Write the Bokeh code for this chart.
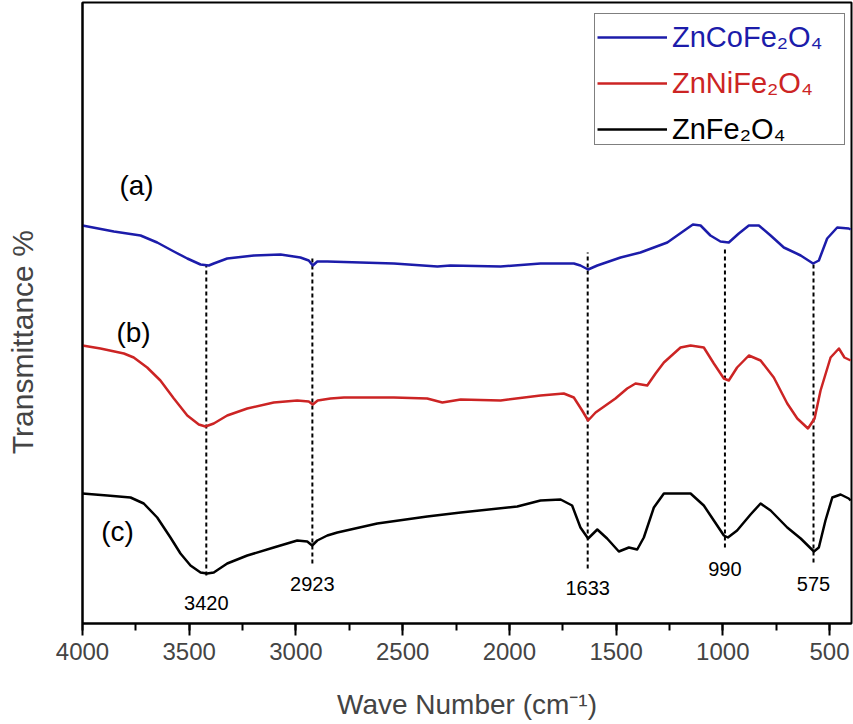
from bokeh.plotting import figure
from bokeh.models import Range1d, SingleIntervalTicker, FixedTicker, Legend, LegendItem
from bokeh.core.properties import value
from bokeh.embed import file_html
from bokeh.resources import INLINE

# ---------------- data ----------------
# (a) ZnCoFe2O4
wn_a = [4000, 3853, 3728, 3650, 3572, 3509, 3447, 3408, 3385, 3322, 3197, 3072, 2979, 2940,
        2921, 2900, 2853, 2541, 2337, 2276, 2041, 1854, 1698, 1667, 1631, 1588, 1479, 1386,
        1260, 1167, 1140, 1104, 1058, 1011, 972, 925, 878, 831, 776, 714, 635, 577, 550,
        511, 464, 410, 401]
t_a = [398, 392, 388, 381, 372, 365, 359, 358, 360, 365, 368, 369, 366, 363,
       358, 362, 362, 360, 357, 358, 357, 360, 360, 358, 354, 358, 366, 371,
       381, 395, 399, 398, 388, 382, 381, 390, 398, 398, 388, 376, 368, 360, 363,
       385, 396, 395, 394]

# (b) ZnNiFe2O4
wn_b = [4000, 3916, 3806, 3760, 3697, 3635, 3572, 3509, 3455, 3424, 3385, 3322, 3228, 3104,
        2994, 2940, 2921, 2898, 2838, 2775, 2541, 2385, 2314, 2228, 2041, 1854, 1745, 1698,
        1659, 1631, 1596, 1503, 1448, 1409, 1354, 1315, 1276, 1198, 1151, 1089, 1042, 995,
        972, 933, 878, 823, 761, 698, 651, 601, 570, 542, 495, 456, 430, 401]
t_b = [278, 275, 270, 266, 256, 243, 225, 208, 199, 197, 200, 208, 215, 221,
       223, 222, 219, 223, 225, 226, 226, 225, 221, 224, 223, 228, 230, 226,
       213, 203, 211, 225, 235, 240, 238, 250, 261, 276, 278, 276, 260, 245,
       243, 256, 268, 263, 246, 220, 205, 195, 205, 233, 266, 275, 266, 263]

# (c) ZnFe2O4
wn_c = [4000, 3884, 3775, 3713, 3650, 3588, 3541, 3494, 3447, 3416, 3385, 3322, 3228, 3104,
        2994, 2947, 2924, 2900, 2853, 2806, 2619, 2385, 2228, 1963, 1854, 1760, 1706, 1667,
        1631, 1588, 1542, 1487, 1440, 1401, 1370, 1323, 1276, 1151, 1089, 1042, 995, 976,
        933, 870, 823, 776, 698, 635, 573, 550, 519, 487, 448, 410, 401]
t_c = [130, 128, 126, 120, 106, 86, 70, 58, 51, 50, 51, 60, 68, 76,
       83, 82, 78, 83, 88, 91, 100, 107, 111, 117, 123, 124, 118, 96,
       85, 94, 85, 72, 76, 74, 86, 116, 130, 130, 118, 103, 88, 86,
       93, 109, 120, 113, 96, 85, 72, 76, 103, 126, 129, 125, 123]

series_names = ["ZnCoFe\u2082O\u2084", "ZnNiFe\u2082O\u2084", "ZnFe\u2082O\u2084"]
curve_tags = ["(a)", "(b)", "(c)"]

peaks = [3420, 2923, 1633, 990, 575]
peak_labels = ["3420", "2923", "1633", "990", "575"]
dash_top = [359, 366, 371, 375, 360]
dash_bottom = [48, 60, 55, 76, 61]

# ---------------- layout / style ----------------
COLORS = ["#1c1caa", "#cc2424", "#000000"]
FONT = "Liberation Sans"

p = figure(width=853, height=724, output_backend="svg", toolbar_location=None,
           x_range=Range1d(4000, 397), y_range=Range1d(0, 621),
           min_border_left=82, min_border_right=2, min_border_top=2, min_border_bottom=101)
p.grid.visible = False
p.background_fill_color = "white"
p.outline_line_color = "black"
p.outline_line_width = 2
p.outline_line_alpha = 1

xa = p.xaxis[0]
xa.ticker = SingleIntervalTicker(interval=500, num_minor_ticks=2)
xa.axis_label = "Wave Number (cm\u207b\u00b9)"
xa.axis_label_text_font = FONT
xa.axis_label_text_font_size = "28px"
xa.axis_label_text_font_style = "normal"
xa.axis_label_standoff = 26
xa.major_label_text_font = FONT
xa.major_label_text_font_size = "24px"
xa.major_label_standoff = 7
xa.axis_line_width = 2
xa.major_tick_line_width = 2
xa.minor_tick_line_width = 2
xa.major_tick_out = 12
xa.major_tick_in = 0
xa.minor_tick_out = 7
xa.minor_tick_in = 0

ya = p.yaxis[0]
ya.ticker = FixedTicker(ticks=[])
# trailing no-break spaces shift the visible title slightly downwards, as in the reference
ya.axis_label = "Transmittance %" + "\u00a0" * 7
ya.axis_label_text_font = FONT
ya.axis_label_text_font_size = "30px"
ya.axis_label_text_font_style = "normal"
ya.axis_label_standoff = 44
ya.axis_line_width = 2
ya.major_tick_line_color = None
ya.minor_tick_line_color = None
ya.major_label_text_font_size = "0px"

# dashed guide lines at the band positions
p.segment(x0=peaks, y0=dash_bottom, x1=peaks, y1=dash_top,
          line_color="black", line_width=2, line_dash="4 3")

renderers = []
for wn, t, c in zip([wn_a, wn_b, wn_c], [t_a, t_b, t_c], COLORS):
    renderers.append(p.line(wn, t, line_color=c, line_width=2.5, line_join="round"))

# peak labels
peak_label_y = [21, 40, 36, 55, 40]
p.text(x=peaks, y=peak_label_y, text=peak_labels, text_font=value(FONT),
       text_font_size="20px", text_align="center", text_baseline="middle", text_color="black")

# curve tags
tag_x = [3747, 3761, 3836]
tag_y = [438, 291, 92]
p.text(x=tag_x, y=tag_y, text=curve_tags, text_font=value(FONT),
       text_font_size="28px", text_align="center", text_baseline="middle", text_color="black")

# legend: an empty bordered box, with one coloured legend entry per series on top
frame_h = 621
box_dummy = p.line([], [], line_alpha=0)
box = Legend(items=[LegendItem(label=" ", renderers=[box_dummy])],
             location=(512, 478), padding=3, glyph_width=70, glyph_height=124,
             label_width=168, label_height=124, label_standoff=5, margin=0,
             border_line_color="black", border_line_width=1.5,
             background_fill_color="white", background_fill_alpha=1,
             label_text_font_size="10px")
p.add_layout(box)

entry_centers = [35, 81, 127]   # px from top of the canvas
for n, r, c, cy in zip(series_names, renderers, COLORS, entry_centers):
    lg = Legend(items=[LegendItem(label=n, renderers=[r])],
                location=(515, frame_h + 2 - cy - 20), padding=2, glyph_width=70,
                glyph_height=36, label_height=36, label_standoff=5, margin=0,
                label_text_font=FONT, label_text_font_size="29px", label_text_color=c,
                border_line_color=None, background_fill_alpha=0)
    p.add_layout(lg)

open("out.html", "w").write(file_html(p, INLINE))
